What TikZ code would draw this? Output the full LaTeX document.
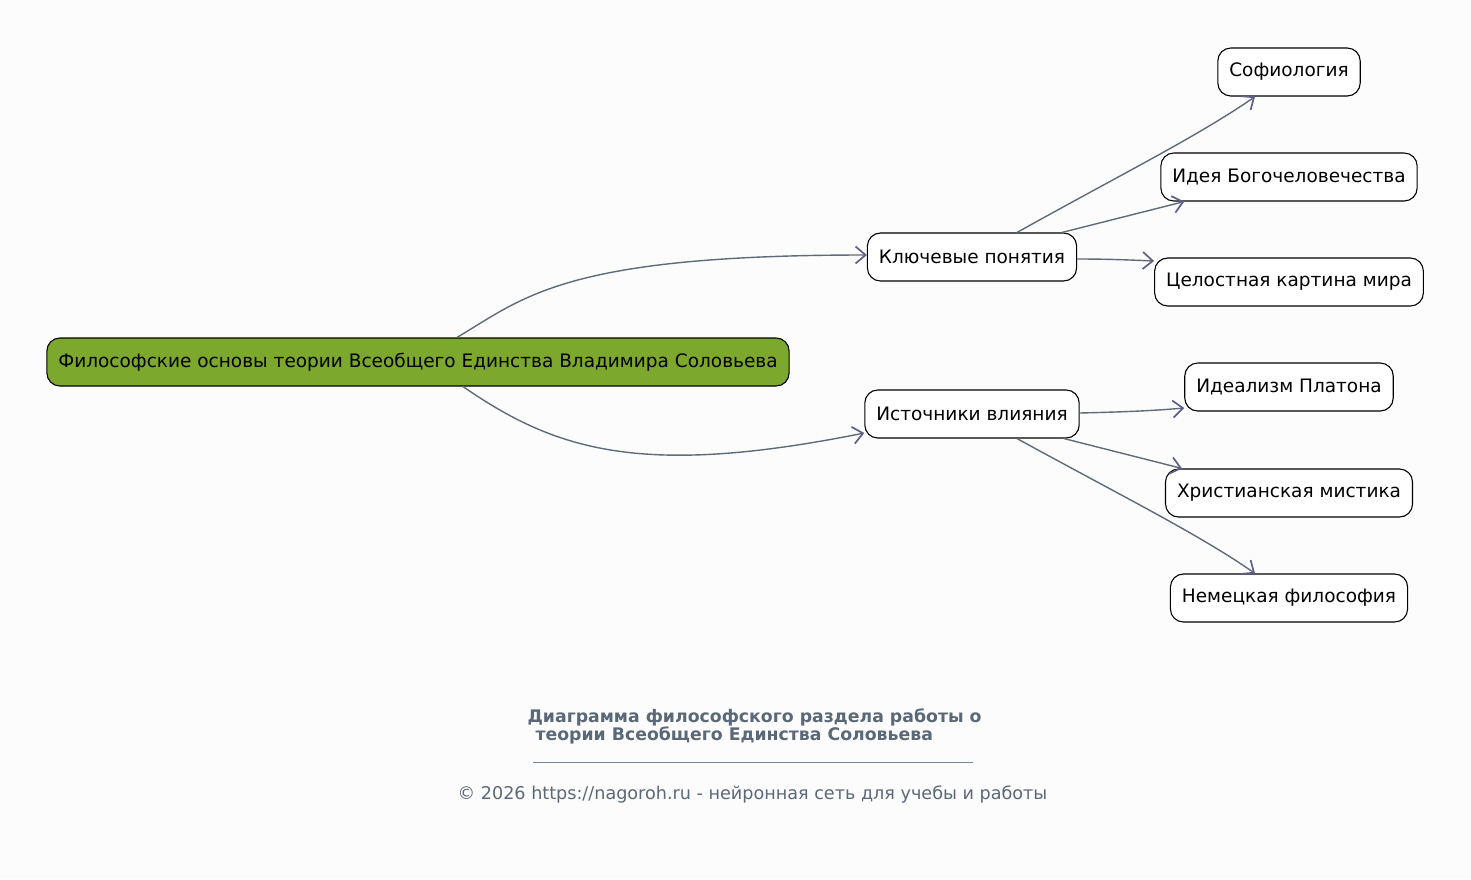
\documentclass[tikz,border=0pt]{standalone}
\usepackage{fontspec}
\setmainfont{DejaVu Sans}
\usetikzlibrary{arrows.meta,calc}
\definecolor{bg}{RGB}{252,252,252}
\definecolor{rootfill}{RGB}{123,168,45}
\definecolor{edgec}{RGB}{95,107,122}
\definecolor{headc}{RGB}{94,96,138}
\definecolor{titlec}{RGB}{90,104,120}
\begin{document}
\begin{tikzpicture}[x=1pt,y=-1pt,
  box/.style={draw=black, rounded corners=13pt, fill=white, minimum height=48pt,
    inner xsep=11.5pt, font=\fontsize{18.5}{22}\selectfont, line width=1.1pt},
  conn/.style={draw=edgec, line width=1.4pt,
    -{Straight Barb[length=10pt,width=17pt,line width=1.7pt,color=headc]}}]
\fill[bg] (0,0) rectangle (1471,879);
\useasboundingbox (0,0) rectangle (1471,879);

\node[box, fill=rootfill] (root) at (418,362) {Философские основы теории Всеобщего Единства Владимира Соловьева};
\node[box] (key) at (972,257) {Ключевые понятия};
\node[box] (src) at (972,414) {Источники влияния};
\node[box] (sof) at (1289,72) {Софиология};
\node[box] (bog) at (1289,177) {Идея Богочеловечества};
\node[box] (cel) at (1289,282) {Целостная картина мира};
\node[box] (pla) at (1289,387) {Идеализм Платона};
\node[box] (chr) at (1289,493) {Христианская мистика};
\node[box] (ger) at (1289,598) {Немецкая философия};

\draw[conn] ($(root.north)+(39,0)$) .. controls (525,297) and (565,255) .. ($(key.west)+(0,-2)$);
\draw[conn] ($(root.south)+(45,0)$) .. controls (555,450) and (640,478) .. ($(src.west)+(0,19)$);

\draw[conn] ($(key.north)+(45,0)$) .. controls (1120,175) and (1200,135) .. ($(sof.south)+(-34,0)$);
\draw[conn] ($(key.north)+(90,0)$) -- ($(bog.south west)+(24,0)$);
\draw[conn] ($(key.east)+(0,2)$) .. controls (1110,259) and (1130,260) .. ($(cel.west)+(0,-21)$);

\draw[conn] ($(src.east)+(0,-1)$) .. controls (1120,412) and (1150,411) .. ($(pla.west)+(0,21)$);
\draw[conn] ($(src.south)+(92,0)$) -- ($(chr.north west)+(17,0)$);
\draw[conn] ($(src.south)+(45,0)$) .. controls (1120,495) and (1200,535) .. ($(ger.north)+(-34,0)$);

\node[anchor=west, align=left, text=titlec, font=\bfseries\fontsize{17.3}{18}\selectfont] (title) at (524,726)
  {Диаграмма философского раздела работы о\\\hspace*{8pt}теории Всеобщего Единства Соловьева};
\draw[titlec!80, line width=0.6pt] (533,762) -- (973,762);
\node[text=titlec, font=\fontsize{17.6}{20}\selectfont] (foot) at (752.5,794)
  {© 2026 https://nagoroh.ru - нейронная сеть для учебы и работы};
\end{tikzpicture}
\end{document}
